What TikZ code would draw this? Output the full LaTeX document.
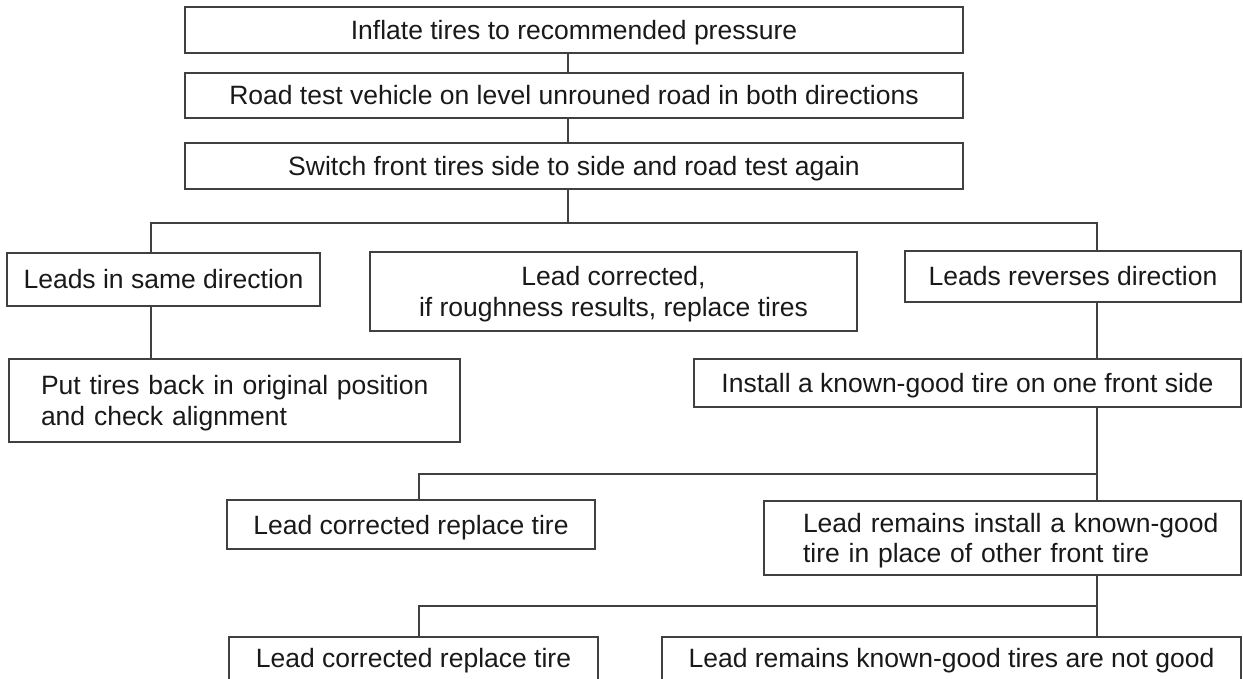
\documentclass[tikz,border=0pt]{standalone}
\usepackage{fontspec}
\setmainfont{Liberation Sans}
\tikzset{
  stepbox/.style={draw=black!75, line width=1.3pt, text=black!90, inner sep=0pt,
    font=\fontsize{26.5}{30.5}\selectfont, text height=19pt, text depth=0pt, align=center},
  twobox/.style={stepbox, text height=49.5pt},
  leftbox/.style={stepbox, align=left, text depth=30.5pt},
  cutbox/.style={stepbox, text depth=9pt},
  link/.style={draw=black!75, line width=1.3pt}
}
\begin{document}
\begin{tikzpicture}[x=1pt,y=-1pt]
\useasboundingbox (0,0) rectangle (1243,679);
\node[stepbox, minimum width=778pt, minimum height=46pt] (inflate) at (574,30) {Inflate tires to recommended pressure};
\node[stepbox, minimum width=778pt, minimum height=45pt] (roadtest) at (574,95.5) {Road test vehicle on level unrouned road in both directions};
\node[stepbox, minimum width=778pt, minimum height=46pt] (swap) at (574,166) {Switch front tires side to side and road test again};
\node[stepbox, minimum width=313pt, minimum height=53pt] (same) at (163.5,279.5) {Leads in same direction};
\node[twobox, minimum width=487pt, minimum height=79pt] (fixed) at (613.5,291.5) {Lead corrected,\\ if roughness results, replace tires};
\node[stepbox, minimum width=336pt, minimum height=51pt] (reverse) at (1073,276.5) {Leads reverses direction};
\node[leftbox, inner xsep=32pt, text width=387pt, minimum height=83pt] (back) at (234.5,400.5) {\mbox{Put tires back in original position}\\ \mbox{and check alignment}};
\node[stepbox, minimum width=547pt, minimum height=48pt] (install) at (967.5,383) {Install a known-good tire on one front side};
\node[stepbox, minimum width=368pt, minimum height=49pt] (good1) at (411,524.5) {Lead corrected replace tire};
\node[leftbox, inner xsep=39pt, text width=399pt, minimum height=74pt] (other) at (1002.5,538) {\mbox{Lead remains install a known-good}\\ \mbox{tire in place of other front tire}};
\node[cutbox, minimum width=369pt, minimum height=50pt] (good2) at (413.5,662) {Lead corrected replace tire};
\node[cutbox, minimum width=579pt, minimum height=50pt] (notgood) at (951.5,662) {Lead remains known-good tires are not good};

\coordinate (mid) at (568,223);
\coordinate (lft) at (151,223);
\coordinate (rgt) at (1097,223);
\coordinate (lft2) at (419,474);
\coordinate (rgt2) at (1097,474);
\coordinate (lft3) at (419,606);
\coordinate (rgt3) at (1097,606);

\draw[link] (inflate.south -| mid) -- (roadtest.north -| mid);
\draw[link] (roadtest.south -| mid) -- (swap.north -| mid);
\draw[link] (swap.south -| mid) -- (mid);
\draw[link] (lft |- same.north) -- (lft) -- (rgt) -- (rgt |- reverse.north);
\draw[link] (same.south -| lft) -- (lft |- back.north);
\draw[link] (reverse.south -| rgt) -- (rgt |- install.north);
\draw[link] (install.south -| rgt2) -- (rgt2 |- other.north);
\draw[link] (rgt2) -- (lft2) -- (lft2 |- good1.north);
\draw[link] (other.south -| rgt3) -- (rgt3 |- notgood.north);
\draw[link] (rgt3) -- (lft3) -- (lft3 |- good2.north);
\end{tikzpicture}
\end{document}
